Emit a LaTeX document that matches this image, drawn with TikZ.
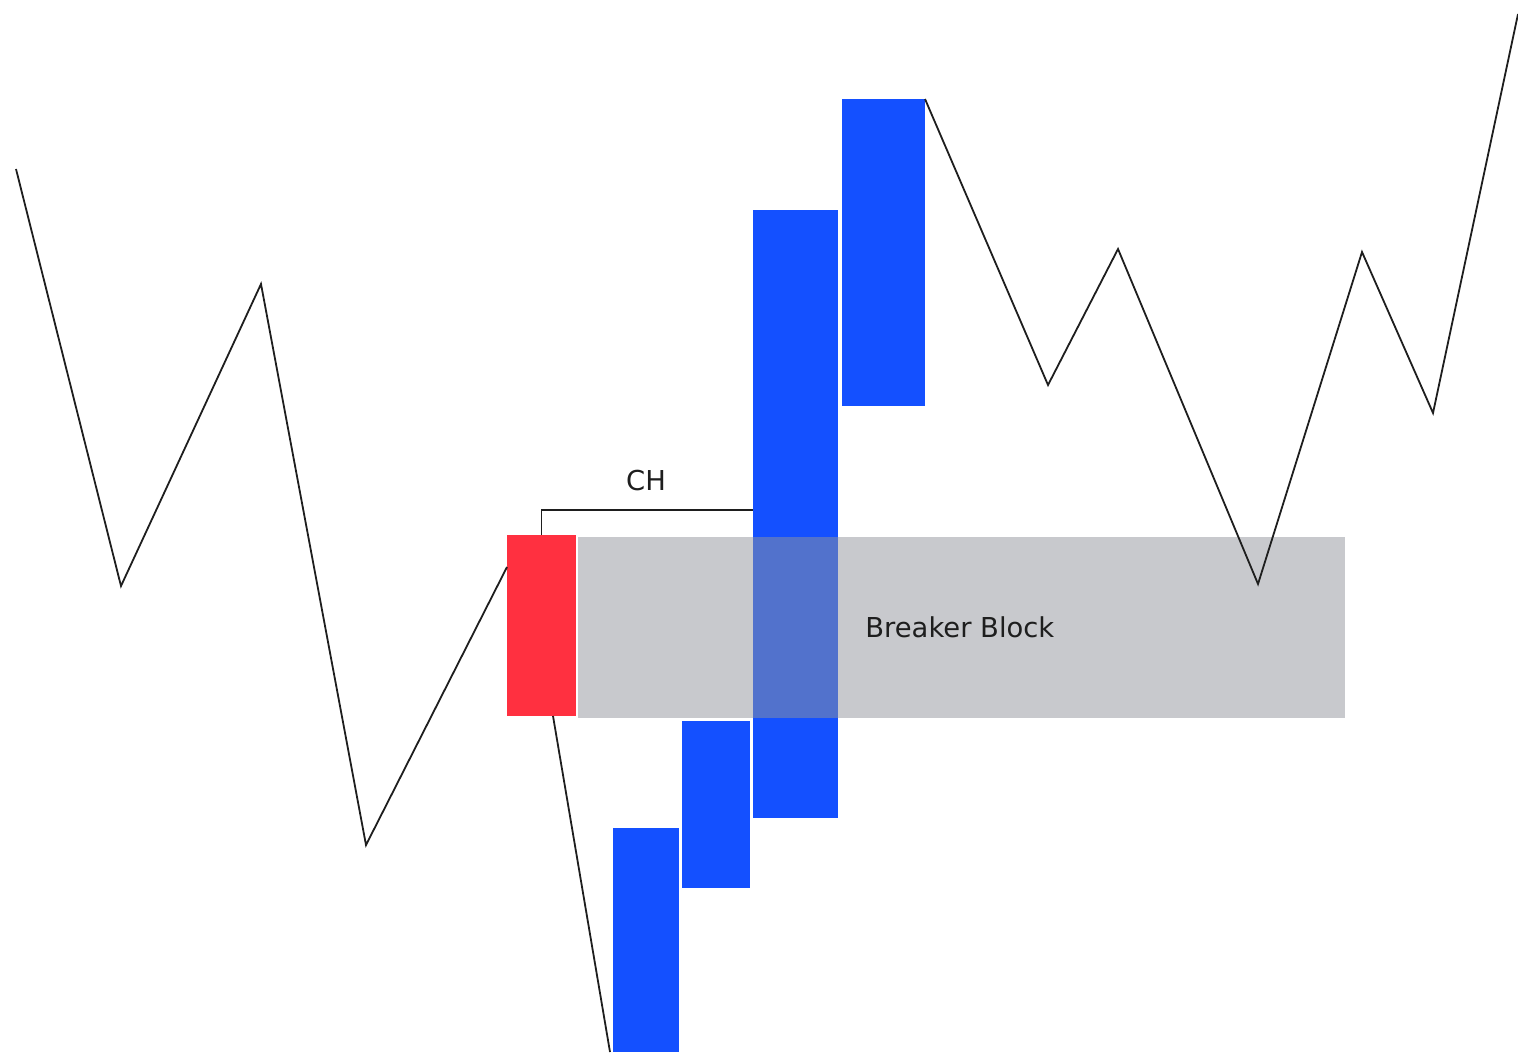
\documentclass[tikz,border=0pt]{standalone}
\usepackage{fontspec}
\setmainfont{DejaVu Sans}
\usetikzlibrary{fit}
\definecolor{barblue}{RGB}{20,80,255}
\definecolor{barred}{RGB}{255,48,64}
\definecolor{zonegrey}{RGB}{145,148,155}
\definecolor{inkline}{RGB}{30,30,30}
\tikzset{
  bar/.style={inner sep=0pt, outer sep=0pt, draw=none},
  bluebar/.style={bar, fill=barblue},
  redbar/.style={bar, fill=barred},
  zone/.style={bar, fill=zonegrey, fill opacity=0.5},
  wave/.style={draw=inkline, line width=0.9pt, line join=miter},
  bracket/.style={draw=inkline, line width=0.9pt},
  lbl/.style={inner sep=0pt, text=inkline, font=\fontsize{13.7}{16}\selectfont}
}
\begin{document}
\begin{tikzpicture}[x=0.5pt,y=-0.5pt]
\useasboundingbox (0,0) rectangle (1518,1059);
% candles
\node[bluebar, fit={(613,828) (679,1052)}] (b1) {};
\node[bluebar, fit={(682,721) (750,888)}] (b2) {};
\node[bluebar, fit={(753,210) (838,818)}] (b3) {};
\node[bluebar, fit={(842,99) (925,406)}] (b4) {};
\node[redbar, fit={(507,535) (576,716)}] (red) {};
% breaker zone
\node[zone, fit={(578,537) (1345,718)}] (zone) {};
% price path
\coordinate (p0) at (16,169);
\coordinate (p1) at (121,586);
\coordinate (p2) at (261,284);
\coordinate (p3) at (366,845);
\coordinate (p4) at (507,567);
\coordinate (p5) at (553,716);
\coordinate (q1) at (1048,385);
\coordinate (q2) at (1118,249);
\coordinate (q3) at (1258,584);
\coordinate (q4) at (1362,252);
\coordinate (q5) at (1433,413);
\coordinate (q6) at (1518,14);
\draw[wave] (p0) -- (p1) -- (p2) -- (p3) -- (p4);
\draw[wave] (p5) -- ([xshift=-1.5pt]b1.south west);
\draw[wave] (b4.north east) -- (q1) -- (q2) -- (q3) -- (q4) -- (q5) -- (q6);
% CH bracket
\coordinate (chy) at (646,510);
\draw[bracket] (red.north) |- (b3.west |- chy);
\node[lbl] (ch) at (646,481) {CH};
\node[lbl, anchor=west] (bb) at (865,627) {Breaker Block};
\end{tikzpicture}
\end{document}
